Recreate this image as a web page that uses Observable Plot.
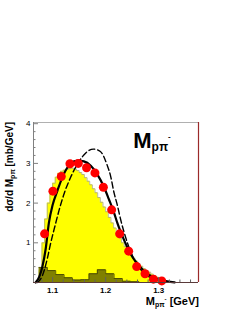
<!DOCTYPE html>
<html><head><meta charset="utf-8">
<script src="https://cdn.jsdelivr.net/npm/d3@7"></script>
<script src="https://cdn.jsdelivr.net/npm/@observablehq/plot@0.6"></script>
<style>body{margin:0;background:#fff}</style>
</head><body><div id="chart"></div>
<script>
// Data points (red dots)
const dataX = [1.0849,1.1006,1.1164,1.1327,1.1484,1.164,1.1798,1.1957,1.2113,1.2264,1.2434,1.2585,1.2742,1.29,1.3057];
const dataY = [1.225,2.30,2.67,2.99,3.0,2.89,2.76,2.40,1.83,1.225,0.79,0.40,0.22,0.085,0.04];

// Yellow histogram (fine bins), left edges and contents
const yelEdges = [1.070,1.075,1.080,1.085,1.090,1.095,1.100,1.105,1.110,1.115,1.120,1.125,1.130,1.135,1.140,1.145,1.150,1.155,1.160,1.165,1.170,1.175,1.180,1.185,1.190,1.195,1.200,1.205,1.210,1.215,1.220,1.225,1.230,1.235,1.240,1.245,1.250,1.255,1.260,1.265,1.270,1.275,1.280,1.285,1.290,1.295,1.300,1.305,1.310,1.315,1.320];
const yelVals  = [0,0.3,1.0,1.6,2.0,2.3,2.5,2.65,2.75,2.8,2.83,2.85,2.87,2.88,2.86,2.82,2.77,2.72,2.64,2.55,2.46,2.36,2.26,2.14,2.02,1.90,1.78,1.64,1.50,1.37,1.24,1.12,1.00,0.90,0.80,0.71,0.62,0.54,0.47,0.41,0.35,0.30,0.26,0.21,0.17,0.13,0.10,0.07,0.05,0.02,0];

// Olive histogram (coarse bins)
const oliveEdges = [1.0745,1.0902,1.1059,1.1216,1.1373,1.1530,1.1687,1.1844,1.2001,1.2158,1.2315,1.2472,1.2629];
const oliveVals  = [0.38,0.30,0.20,0.12,0.06,0.07,0.22,0.32,0.22,0.10,0.03,0.02,0];

// Solid curve
const solidX = [1.068,1.075,1.0806,1.087,1.093,1.100,1.109,1.121,1.134,1.147,1.159,1.172,1.184,1.197,1.206,1.216,1.222,1.235,1.247,1.260,1.279,1.298,1.316,1.330];
const solidY = [0,0.15,0.39,0.85,1.5,1.95,2.31,2.73,2.99,3.07,3.05,2.94,2.73,2.40,2.10,1.75,1.50,1.06,0.72,0.47,0.22,0.09,0.03,0.005];

// Dashed curve
const dashX = [1.071,1.080,1.090,1.096,1.105,1.112,1.122,1.134,1.150,1.163,1.177,1.190,1.203,1.209,1.216,1.222,1.228,1.241,1.253,1.272,1.290,1.304,1.320];
const dashY = [0,0.15,0.6,0.97,1.45,1.81,2.25,2.65,3.05,3.27,3.36,3.30,2.95,2.70,2.25,1.95,1.60,1.0,0.6,0.24,0.09,0.04,0.01];

const yMajor = [1,2,3,4];
const yMinor = d3.range(0.2, 4.01, 0.2).filter(v => Math.abs(v - Math.round(v)) > 0.01);
const xMajor = [1.1,1.2,1.3];
const xMinor = d3.range(1.08, 1.37, 0.02).filter(v => !xMajor.some(m => Math.abs(m - v) < 0.001));

const X0 = 1.064, X1 = 1.375, Y1 = 4.03;
const W = 241, H = 312, mL = 33, mR = 43, mT = 122, mB = 30;
const kx = (X1 - X0) / (W - mL - mR);
const ky = Y1 / (H - mT - mB);

const yel = yelEdges.map((x, i) => ({x, y: yelVals[i]}));
const oli = oliveEdges.map((x, i) => ({x, y: oliveVals[i]}));
const pts = dataX.map((x, i) => ({x, y: dataY[i]}));
const sol = solidX.map((x, i) => ({x, y: solidY[i]}));
const dsh = dashX.map((x, i) => ({x, y: dashY[i]}));

const plot = Plot.plot({
  width: W, height: H,
  marginLeft: mL, marginRight: mR, marginTop: mT, marginBottom: mB,
  style: {fontFamily: "'Liberation Sans', Arial, sans-serif", background: "white"},
  x: {domain: [X0, X1], axis: null, label: null},
  y: {domain: [0, Y1], axis: null, label: null},
  marks: [
    Plot.areaY(yel, {x: "x", y: "y", curve: "step-after", fill: "#ffff00"}),
    Plot.lineY(yel, {x: "x", y: "y", curve: "step-after", stroke: "#a8a880", strokeWidth: 0.8}),
    Plot.areaY(oli, {x: "x", y: "y", curve: "step-after", fill: "#808000"}),
    Plot.lineY(oli, {x: "x", y: "y", curve: "step-after", stroke: "#4a4a00", strokeWidth: 0.9}),
    Plot.line(dsh, {x: "x", y: "y", curve: "monotone-x", stroke: "black", strokeWidth: 1.4, strokeDasharray: "6,3"}),
    Plot.line(sol, {x: "x", y: "y", curve: "monotone-x", stroke: "black", strokeWidth: 2.2}),
    Plot.dot(pts, {x: "x", y: "y", r: 4.5, fill: "#ff0000", stroke: "none"}),
    // frame
    Plot.ruleY([Y1], {x1: X0, x2: X1, stroke: "#b0b0b0"}),
    Plot.ruleX([X1], {y1: 0, y2: Y1, stroke: "#9b2a2a", strokeWidth: 1.2}),
    Plot.ruleX([X0], {y1: 0, y2: Y1, stroke: "#808080"}),
    Plot.ruleY([0], {x1: X0, x2: X1, stroke: "#5a3a3a", strokeWidth: 1.2}),
    // y ticks (inward)
    Plot.ruleY(yMajor, {x1: X0, x2: X0 + 5 * kx, stroke: "#808080"}),
    Plot.ruleY(yMinor, {x1: X0, x2: X0 + 2.5 * kx, stroke: "#808080"}),
    // x ticks (inward)
    Plot.ruleX(xMajor, {y1: 0, y2: 5 * ky, stroke: "#606060"}),
    Plot.ruleX(xMinor, {y1: 0, y2: 2.5 * ky, stroke: "#606060"}),
    Plot.axisY({ticks: yMajor, tickSize: 0, tickPadding: 3, fontSize: 8, tickFormat: d3.format("d"), anchor: "left", label: null}),
    Plot.axisX({ticks: xMajor, tickSize: 0, tickPadding: 5, fontSize: 8, tickFormat: d3.format(".1f"), anchor: "bottom", fontWeight: "bold", label: null})
  ]
});

const svg = d3.select(plot);
// y title
const yt = svg.append("text")
  .attr("transform", "translate(13,122) rotate(-90)")
  .attr("text-anchor", "end")
  .attr("font-family", "'Liberation Sans', Arial, sans-serif")
  .attr("font-weight", "bold")
  .attr("font-size", 10);
yt.append("tspan").text("dσ/d M");
yt.append("tspan").attr("font-size", 7).attr("dy", 2).text("pπ");
yt.append("tspan").attr("dy", -2).text(" [mb/GeV]");

// x title
const xt = svg.append("text")
  .attr("x", 199).attr("y", 305)
  .attr("text-anchor", "end")
  .attr("font-family", "'Liberation Sans', Arial, sans-serif")
  .attr("font-weight", "bold")
  .attr("font-size", 11);
xt.append("tspan").text("M");
xt.append("tspan").attr("font-size", 7).attr("dy", 2).text("pπ");
xt.append("tspan").attr("font-size", 6).attr("dy", -6).text("-");
xt.append("tspan").attr("dy", 4).text(" [GeV]");

// big label
const bl = svg.append("text")
  .attr("x", 152).attr("y", 148)
  .attr("font-family", "'Liberation Sans', Arial, sans-serif")
  .attr("font-weight", "bold")
  .attr("font-size", 22);
bl.append("tspan").text("M");
bl.append("tspan").attr("font-size", 12).attr("dy", 3).text("pπ");
bl.append("tspan").attr("font-size", 8).attr("dy", -12).text("-");

document.getElementById("chart").appendChild(plot);
</script>
</body></html>
